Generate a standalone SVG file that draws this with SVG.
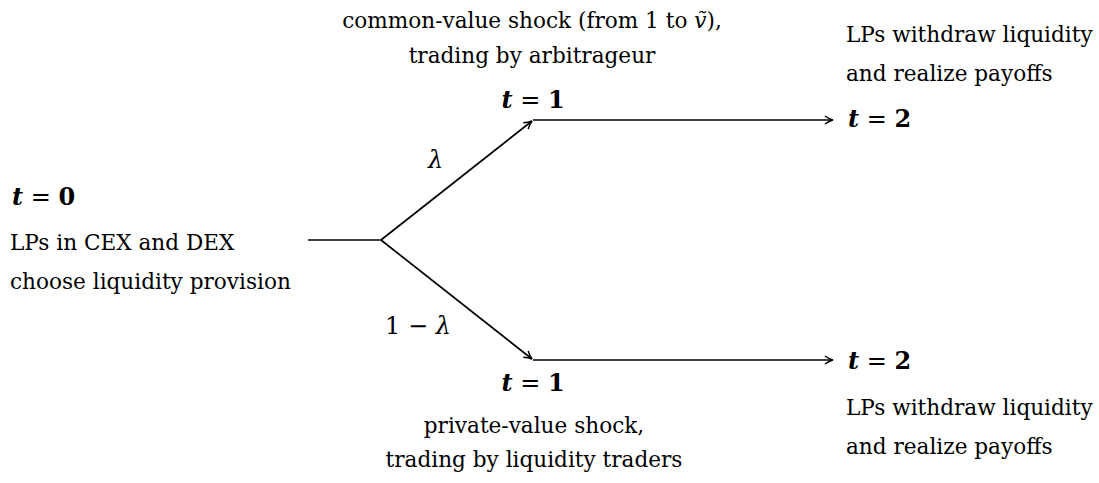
<svg xmlns="http://www.w3.org/2000/svg" width="1099" height="483" viewBox="0 0 1099 483">
<defs>
<style>
.t{font-family:"DejaVu Serif","Liberation Serif",serif;font-size:21.6px;fill:#000}
.m{font-family:"DejaVu Serif","Liberation Serif",serif;font-size:24px;fill:#000}
.bi{font-weight:bold;font-style:italic}
.b{font-weight:bold}
.i{font-style:italic}
.c{text-anchor:middle}
.e{stroke:#000;stroke-width:1.7;fill:none}
</style>
<marker id="ah" viewBox="0 0 10 10" refX="9" refY="5" markerWidth="10" markerHeight="10" markerUnits="userSpaceOnUse" orient="auto">
<path d="M1,1 Q5,4 9,5 Q5,6 1,9" fill="none" stroke="#000" stroke-width="1.5"/>
</marker>
</defs>
<rect width="1099" height="483" fill="#fff"/>
<g id="connectors">
<line class="e" x1="308" y1="240" x2="382" y2="240"/>
<line class="e" x1="381" y1="240" x2="532" y2="121" marker-end="url(#ah)"/>
<line class="e" x1="381" y1="240" x2="532" y2="359" marker-end="url(#ah)"/>
<line class="e" x1="533" y1="120" x2="833" y2="120" marker-end="url(#ah)"/>
<line class="e" x1="533" y1="360" x2="833" y2="360" marker-end="url(#ah)"/>
<text class="m i" x="428" y="168">λ</text>
<text class="m" x="385" y="334">1 − <tspan class="i">λ</tspan></text>
</g>
<g id="node-t0">
<text class="m" x="12" y="205"><tspan class="bi">t</tspan> = <tspan class="b">0</tspan></text>
<text class="t" x="10" y="250">LPs in CEX and DEX</text>
<text class="t" x="10" y="289">choose liquidity provision</text>
</g>
<g id="node-t1-up">
<text class="t c" x="532" y="28">common-value shock (from 1 to <tspan class="i">ṽ</tspan>),</text>
<text class="t c" x="532" y="63">trading by arbitrageur</text>
<text class="m c" x="533" y="108"><tspan class="bi">t</tspan> = <tspan class="b">1</tspan></text>
</g>
<g id="node-t2-up">
<text class="t" x="846" y="42">LPs withdraw liquidity</text>
<text class="t" x="846" y="81">and realize payoffs</text>
<text class="m" x="848" y="127"><tspan class="bi">t</tspan> = <tspan class="b">2</tspan></text>
</g>
<g id="node-t1-down">
<text class="m c" x="533" y="391"><tspan class="bi">t</tspan> = <tspan class="b">1</tspan></text>
<text class="t c" x="534" y="433">private-value shock,</text>
<text class="t c" x="534" y="467">trading by liquidity traders</text>
</g>
<g id="node-t2-down">
<text class="m" x="848" y="369"><tspan class="bi">t</tspan> = <tspan class="b">2</tspan></text>
<text class="t" x="846" y="415">LPs withdraw liquidity</text>
<text class="t" x="846" y="454">and realize payoffs</text>
</g>
</svg>
